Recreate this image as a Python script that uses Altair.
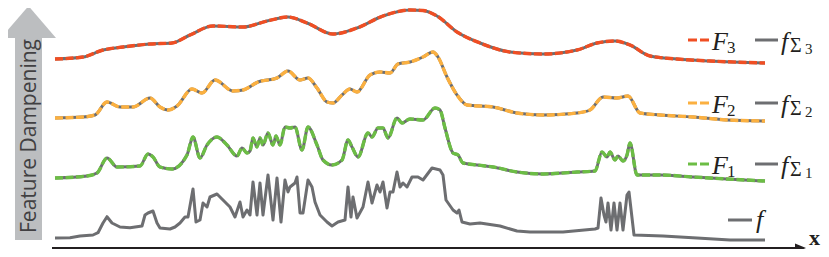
import altair as alt
import pandas as pd

# ---------------- data ----------------
# raw signal f
f_x = [55, 70, 80, 93, 98, 103, 107, 112, 120, 130, 142, 145, 148, 153, 157, 160, 170, 175, 180, 185,
       188, 193, 196, 200, 203, 207, 210, 217, 223, 230, 235, 240, 243, 247, 250, 253, 257, 260, 263, 268,
       273, 277, 281, 285, 288, 290, 295, 297, 300, 303, 308, 312, 315, 320, 327, 332, 338, 345, 348, 351,
       353, 357, 363, 368, 372, 377, 380, 383, 387, 390, 393, 397, 400, 403, 407, 412, 418, 423, 432, 440,
       443, 446, 453, 457, 459, 462, 470, 480, 500, 517, 530, 563, 595, 598, 601, 604, 606, 608, 611, 614,
       617, 620, 623, 627, 629, 634, 663, 697, 730, 765]
f_y = [238, 237.7, 236, 235, 232.7, 223, 216.7, 223, 227, 227.7, 226, 215, 213, 211, 223, 228, 229, 227, 223, 217,
       217, 189, 222, 220, 203, 207, 197, 194, 200, 207, 217, 202, 217, 210, 215, 182, 215, 183, 215, 175,
       220, 178, 222, 180, 192, 187, 183, 177, 213, 213, 180, 187, 202, 215, 222, 226, 222, 220, 187, 217,
       197, 218, 207, 182, 203, 185, 192, 182, 208, 192, 192, 172, 187, 183, 187, 177, 177, 180, 168, 170,
       175, 200, 210, 213, 210, 222, 224, 223, 226, 231, 232, 232, 229, 228, 198, 215, 222, 203, 230, 203,
       230, 203, 230, 195, 192, 235, 236, 238, 240, 240]

# F1 / f_Sigma1
g1_x = [55, 87, 97, 107, 117, 140, 148, 153, 160, 172, 187, 193, 200, 207, 217, 227, 237, 242, 247, 250,
        253, 257, 260, 263, 268, 273, 276, 280, 285, 290, 295, 302, 308, 317, 323, 332, 342, 348, 352, 358,
        368, 372, 378, 383, 388, 397, 402, 410, 423, 435, 440, 445, 453, 458, 463, 477, 493, 517, 543, 577,
        595, 602, 607, 610, 615, 618, 623, 627, 630, 637, 660, 693, 727, 765]
g1_y = [178, 176, 173, 158, 167, 166, 154, 157, 167, 169, 155, 137, 158, 145, 137, 145, 156, 148, 153, 151,
        138, 147, 138, 145, 133, 145, 136, 145, 127, 128, 127, 150, 127, 145, 160, 165, 160, 140, 147, 157,
        133, 137, 128, 128, 138, 118, 123, 119, 120, 108, 110, 128, 153, 155, 163, 165, 167, 172, 174, 172,
        171, 152, 157, 152, 160, 156, 161, 155, 143, 175, 175, 177, 179, 181]

# F2 / f_Sigma2
g2_x = [55, 83, 95, 107, 120, 133, 150, 160, 168, 177, 192, 202, 215, 233, 243, 258, 277, 288, 300, 308,
        317, 327, 333, 342, 350, 357, 370, 380, 390, 398, 410, 423, 433, 438, 447, 457, 467, 493, 517, 543,
        577, 590, 603, 617, 628, 640, 660, 693, 727, 765]
g2_y = [118, 117, 115, 102, 107, 107, 98, 107, 110, 106, 89, 93, 80, 91, 90, 82, 78, 71, 80, 78,
        88, 102, 103, 95, 89, 92, 75, 72, 73, 64, 62, 57, 52, 57, 77, 95, 105, 107, 113, 115,
        113, 110, 97, 98, 96, 113, 115, 117, 120, 121]

# F3 / f_Sigma3 (the peak sits at the very top edge of the picture)
g3_x = [55, 83, 103, 123, 150, 172, 190, 213, 243, 267, 288, 307, 333, 357, 383, 410, 423, 437, 457, 480,
        510, 543, 577, 597, 615, 630, 650, 677, 710, 765]
g3_y = [59, 57, 50, 47, 44, 43, 35, 26, 27, 21, 17, 23, 34, 28, 16, 10, 10.5, 16, 32, 43,
        52, 54, 50, 43, 41, 45, 56, 59, 61, 63]

series_names = ["F1", "F2", "F3"]
series_colors = ["#6CBD45", "#FBB040", "#F04E23"]
gray = "#6D6E71"

# legend rows (F_k / f_Sigma_k), from bottom to top
legend_rows_y = [164, 103, 40]
legend_subs = ["1", "2", "3"]

# ---------------- scales ----------------
W, H = 813, 241
xs = alt.Scale(domain=[8, 8 + W], nice=False, zero=False)
ys = alt.Scale(domain=[8, 8 + H], nice=False, zero=False, reverse=True)


def X(f="x"):
    return alt.X(f"{f}:Q", scale=xs, axis=None)


def Y(f="y"):
    return alt.Y(f"{f}:Q", scale=ys, axis=None)


# ---------------- tables ----------------
df_f = pd.DataFrame({"x": f_x, "y": f_y})
smooth = []
for name, xx, yy in zip(series_names, [g1_x, g2_x, g3_x], [g1_y, g2_y, g3_y]):
    for a, b in zip(xx, yy):
        smooth.append({"series": name, "x": a, "y": b})
df_s = pd.DataFrame(smooth)

color_scale = alt.Scale(domain=series_names, range=series_colors)

# left "Feature Dampening" arrow
shaft = pd.DataFrame({"x": [15], "x2": [42], "y": [38], "y2": [240]})
head = pd.DataFrame({"x": [1, 28.5, 56], "y": [38, 6, 38], "y2": [38, 38, 38]})
label_df = pd.DataFrame({"x": [36], "y": [136], "t": ["Feature Dampening"]})

# x axis arrow
axis_line = pd.DataFrame({"x": [52], "x2": [800], "y": [248]})
axis_head = pd.DataFrame({"x": [795, 806], "y": [243.5, 248], "y2": [252.5, 248]})
axis_lab = pd.DataFrame({"x": [809], "y": [245], "t": ["x"]})

# legend
leg_dash = pd.DataFrame({
    "x": [688] * 3, "x2": [709] * 3, "y": legend_rows_y, "series": series_names})
leg_gray = pd.DataFrame({
    "x": [755] * 3 + [728], "x2": [778] * 3 + [752], "y": legend_rows_y + [220]})
ital = pd.DataFrame({
    "x": [712] * 3 + [781] * 3 + [756],
    "y": [r + 10 for r in legend_rows_y] * 2 + [228],
    "t": ["F"] * 3 + ["f"] * 4,
    "fs": [26] * 7})
upr = pd.DataFrame({
    "x": [727] * 3 + [790] * 3 + [805] * 3,
    "y": [r + 13 for r in legend_rows_y] + [r + 12 for r in legend_rows_y] + [r + 14 for r in legend_rows_y],
    "t": legend_subs + ["Σ"] * 3 + legend_subs,
    "fs": [17] * 3 + [20] * 3 + [15] * 3})

# ---------------- layers ----------------
arrow_shaft = alt.Chart(shaft).mark_rect(color="#BCBEC0").encode(
    x=X(), x2="x2:Q", y=Y(), y2="y2:Q")
arrow_head = alt.Chart(head).mark_area(color="#BCBEC0", orient="vertical").encode(
    x=X(), y=Y(), y2="y2:Q")
arrow_text = alt.Chart(label_df).mark_text(
    angle=270, align="center", baseline="alphabetic", font="Open Sans", fontSize=21,
    color="#414042").encode(x=X(), y=Y(), text="t:N")

ax_line = alt.Chart(axis_line).mark_rule(color="#231F20", strokeWidth=2).encode(
    x=X(), x2="x2:Q", y=Y())
ax_head = alt.Chart(axis_head).mark_area(color="#231F20", orient="vertical").encode(
    x=X(), y=Y(), y2="y2:Q")
ax_lab = alt.Chart(axis_lab).mark_text(
    align="left", baseline="alphabetic", font="Liberation Serif", fontWeight="bold",
    fontSize=22, color="#231F20").encode(x=X(), y=Y(), text="t:N")

raw = alt.Chart(df_f).mark_line(color=gray, strokeWidth=3, strokeJoin="round").encode(
    x=X(), y=Y())
gray_s = alt.Chart(df_s).mark_line(color=gray, strokeWidth=3, interpolate="monotone").encode(
    x=X(), y=Y(), detail="series:N")
col_s = alt.Chart(df_s).mark_line(strokeWidth=3.4, strokeDash=[8, 2.5], interpolate="monotone").encode(
    x=X(), y=Y(), color=alt.Color("series:N", scale=color_scale, legend=None))

lg_dash = alt.Chart(leg_dash).mark_rule(strokeWidth=3, strokeDash=[9, 3]).encode(
    x=X(), x2="x2:Q", y=Y(), color=alt.Color("series:N", scale=color_scale, legend=None))
lg_gray = alt.Chart(leg_gray).mark_rule(strokeWidth=3, color=gray).encode(
    x=X(), x2="x2:Q", y=Y())
lg_ital = alt.Chart(ital).mark_text(
    align="left", baseline="alphabetic", font="Liberation Serif", fontStyle="italic",
    color="#231F20").encode(x=X(), y=Y(), text="t:N", size=alt.Size("fs:Q", scale=None))
lg_upr = alt.Chart(upr).mark_text(
    align="left", baseline="alphabetic", font="Liberation Serif",
    color="#231F20").encode(x=X(), y=Y(), text="t:N", size=alt.Size("fs:Q", scale=None))

chart = alt.layer(
    arrow_shaft, arrow_head, arrow_text, ax_line, ax_head, ax_lab,
    raw, gray_s, col_s, lg_dash, lg_gray, lg_ital, lg_upr
).properties(
    width=W, height=H, padding=0, autosize=alt.AutoSizeParams(type="none")
).configure_view(stroke=None)

chart.save("out.html", embed_options={"renderer": "svg", "actions": False})
